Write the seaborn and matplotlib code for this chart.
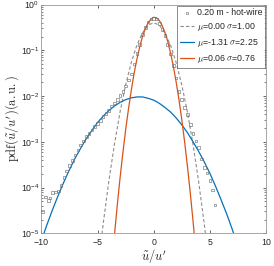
import matplotlib
matplotlib.use('Agg')
import matplotlib.pyplot as plt
import numpy as np
import pandas as pd
import seaborn as sns
from matplotlib.ticker import LogLocator, NullFormatter

# hot-wire pdf at 0.20 m (log10 values)
hw_x = [-9.88, -9.62, -9.37, -9.25, -9.0, -8.75, -8.5, -8.25, -8.0, -7.75,
        -7.5, -7.25, -7.0, -6.75, -6.5, -6.25, -6.0, -5.75, -5.5, -5.25,
        -5.0, -4.75, -4.5, -4.25, -4.0, -3.75, -3.5, -3.25, -3.0, -2.75,
        -2.5, -2.25, -2.0, -1.75, -1.5, -1.25, -1.0, -0.75, -0.5, -0.25,
        0.0, 0.25, 0.5, 0.75, 1.0, 1.25, 1.5, 1.75, 2.0, 2.25,
        2.5, 2.75, 3.0, 3.25, 3.5, 3.75, 4.0, 4.25, 4.5, 4.75,
        5.0, 5.25, 5.47]
hw_log = [-4.52, -4.21, -4.29, -4.23, -4.11, -4.10, -4.08, -3.96, -3.78, -3.64,
          -3.52, -3.41, -3.29, -3.18, -3.07, -2.98, -2.89, -2.82, -2.74, -2.67,
          -2.60, -2.53, -2.45, -2.38, -2.31, -2.22, -2.15, -2.07, -1.99, -1.90,
          -1.78, -1.65, -1.52, -1.30, -1.07, -0.87, -0.66, -0.50, -0.38, -0.32,
          -0.30, -0.32, -0.42, -0.55, -0.68, -0.88, -1.08, -1.33, -1.61, -1.90,
          -2.08, -2.25, -2.40, -2.62, -2.82, -2.98, -3.13, -3.38, -3.56, -3.68,
          -3.85, -4.05, -4.38]

# gaussian mu=0.00 sigma=1.00
g0_x = [-5.0, -4.5, -4.0, -3.5, -3.0, -2.5, -2.0, -1.5, -1.0, -0.5, 0.0,
        0.5, 1.0, 1.5, 2.0, 2.5, 3.0, 3.5, 4.0, 4.5, 5.0]
g0_log = [-5.83, -4.80, -3.87, -3.06, -2.35, -1.76, -1.27, -0.89, -0.62, -0.45, -0.40,
          -0.45, -0.62, -0.89, -1.27, -1.76, -2.35, -3.06, -3.87, -4.80, -5.83]

# gaussian mu=-1.31 sigma=2.25
g1_x = [-10.0, -9.5, -9.0, -8.5, -8.0, -7.5, -7.0, -6.5, -6.0, -5.5, -5.0, -4.5,
        -4.0, -3.5, -3.0, -2.5, -2.0, -1.5, -1.0, -0.5, 0.0, 0.5, 1.0, 1.5,
        2.0, 2.5, 3.0, 3.5, 4.0, 4.5, 5.0, 5.5, 6.0, 6.5, 7.0, 7.5]
g1_log = [-5.16, -4.81, -4.48, -4.17, -3.88, -3.61, -3.36, -3.14, -2.93, -2.75, -2.58, -2.44,
          -2.32, -2.22, -2.14, -2.08, -2.04, -2.02, -2.02, -2.05, -2.09, -2.16, -2.25, -2.35,
          -2.48, -2.63, -2.80, -3.00, -3.21, -3.44, -3.69, -3.97, -4.27, -4.58, -4.92, -5.28]

# gaussian mu=0.06 sigma=0.76
g2_x = [-3.75, -3.5, -3.25, -3.0, -2.75, -2.5, -2.25, -2.0, -1.75, -1.5, -1.25, -1.0,
        -0.75, -0.5, -0.25, 0.0, 0.25, 0.5, 0.75, 1.0, 1.25, 1.5, 1.75, 2.0,
        2.25, 2.5, 2.75, 3.0, 3.25, 3.5, 3.75]
g2_log = [-5.74, -5.05, -4.40, -3.80, -3.25, -2.74, -2.29, -1.88, -1.51, -1.20, -0.93, -0.70,
          -0.53, -0.40, -0.32, -0.28, -0.29, -0.35, -0.46, -0.61, -0.81, -1.06, -1.35, -1.70,
          -2.08, -2.52, -3.00, -3.53, -4.11, -4.73, -5.40]

labels = ['0.20 m - hot-wire',
          r'$\mu$=0.00 $\sigma$=1.00',
          r'$\mu$=-1.31 $\sigma$=2.25',
          r'$\mu$=0.06 $\sigma$=0.76']

sns.set_style('ticks')
plt.rcParams['font.family'] = ['Liberation Sans', 'DejaVu Sans']
plt.rcParams['mathtext.fontset'] = 'cm'
plt.rcParams['font.size'] = 6.3

fig = plt.figure(figsize=(2.74, 2.66), dpi=100)
ax = fig.add_axes([0.151, 0.123, 0.820, 0.860])

hw = pd.DataFrame({'x': hw_x, 'y': np.power(10.0, hw_log)})
sns.scatterplot(data=hw, x='x', y='y', ax=ax, marker='s', s=3.5, facecolor='none',
                edgecolor='0.45', linewidth=0.45, label=labels[0], zorder=3)
sns.lineplot(x=g0_x, y=np.power(10.0, g0_log), ax=ax, color='0.55', lw=0.8,
             linestyle=(0, (3, 2)), label=labels[1], sort=False)
sns.lineplot(x=g1_x, y=np.power(10.0, g1_log), ax=ax, color='#0072BD', lw=0.9,
             label=labels[2], sort=False)
sns.lineplot(x=g2_x, y=np.power(10.0, g2_log), ax=ax, color='#D95319', lw=0.9,
             label=labels[3], sort=False)

ax.set_yscale('log')
ax.set_xlim(-10, 10)
ax.set_ylim(1e-5, 1)
ax.set_xticks([-10, -5, 0, 5, 10])
ax.yaxis.set_major_locator(LogLocator(base=10, numticks=10))
ax.yaxis.set_minor_locator(LogLocator(base=10, subs=np.arange(2, 10), numticks=10))
ax.yaxis.set_minor_formatter(NullFormatter())
ax.tick_params(which='both', direction='in', top=True, right=True, colors='0.15',
               labelsize=6.3)
ax.tick_params(axis='x', pad=3.5)
ax.tick_params(axis='y', pad=1.5)
ax.tick_params(which='major', length=2.5, width=0.5)
ax.tick_params(which='minor', length=1.5, width=0.4)
for sp in ax.spines.values():
    sp.set_visible(True)
    sp.set_color('0.6')
    sp.set_linewidth(0.6)

ax.set_xlabel(r'$\tilde{u}/u^{\prime}$', fontsize=9, labelpad=0)
ax.set_ylabel(r'$\mathrm{pdf}(\tilde{u}/u^{\prime})\mathrm{(a.u.)}$', fontsize=9, labelpad=0)

leg = ax.legend(loc='upper right', fontsize=6.3, frameon=True, fancybox=False,
                borderaxespad=0.15, handlelength=1.6, handletextpad=0.3,
                labelspacing=0.45, borderpad=0.3)
leg.get_frame().set_edgecolor('0.2')
leg.get_frame().set_linewidth(0.5)

fig.savefig('out.png', dpi=100)
